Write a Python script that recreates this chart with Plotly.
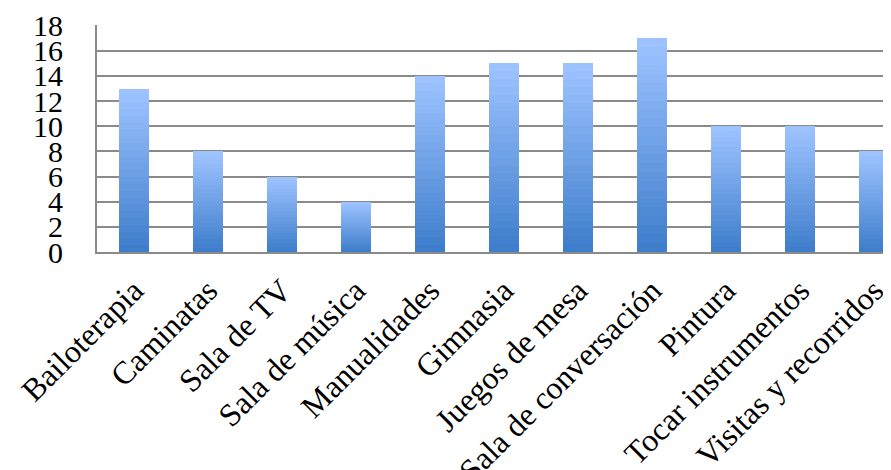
import plotly.graph_objects as go

categories = ["Bailoterapia", "Caminatas", "Sala de TV", "Sala de música", "Manualidades",
              "Gimnasia", "Juegos de mesa", "Sala de conversación", "Pintura",
              "Tocar instrumentos", "Visitas y recorridos"]
values = [13, 8, 6, 4, 14, 15, 15, 17, 10, 10, 8]
y_ticks = [0, 2, 4, 6, 8, 10, 12, 14, 16, 18]

N_STEPS = 24
dark = (63, 126, 204)
light = (157, 195, 255)

fig = go.Figure()
for k in range(N_STEPS):
    t = k / (N_STEPS - 1)
    c = tuple(round(dark[i] + (light[i] - dark[i]) * t) for i in range(3))
    fig.add_trace(go.Bar(
        x=categories,
        y=[v / N_STEPS for v in values],
        marker=dict(color="rgb(%d,%d,%d)" % c, line=dict(width=0)),
        width=0.405,
        showlegend=False,
        hoverinfo="skip",
    ))

fig.update_layout(
    barmode="stack",
    width=883, height=462,
    margin=dict(l=89, r=0, t=17, b=218, autoexpand=False),
    plot_bgcolor="white", paper_bgcolor="white",
    font=dict(family="Liberation Serif", color="black"),
    xaxis=dict(
        range=[-0.5, 10.23],
        tickangle=-45,
        tickfont=dict(size=32, family="Liberation Serif"),
        showline=True, linecolor="#8a8a8a", linewidth=2,
        showgrid=False, ticks="", automargin=False,
        ticklabelstandoff=5,
    ),
    yaxis=dict(
        range=[0, 18.05],
        tickvals=y_ticks,
        tickfont=dict(size=30, family="Liberation Serif"),
        showline=True, linecolor="#8a8a8a", linewidth=2,
        showgrid=True, gridcolor="#8a8a8a", gridwidth=2,
        zeroline=False, ticks="", automargin=False,
        ticklabelstandoff=26,
    ),
)

fig.write_html("out.html")
